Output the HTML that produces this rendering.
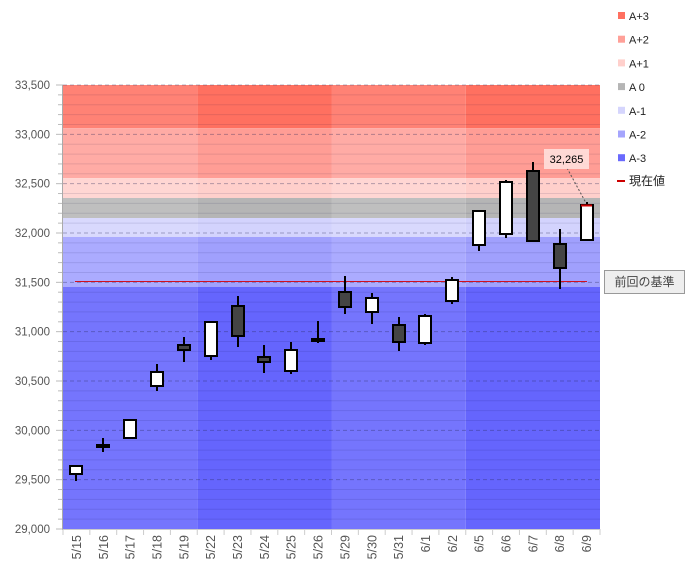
<!DOCTYPE html>
<html><head><meta charset="utf-8"><style>
body{margin:0;background:#fff;width:693px;height:573px;overflow:hidden}
svg{display:block;font-family:"Liberation Sans","Noto Sans CJK JP",sans-serif}
</style></head><body>
<svg id="c" width="693" height="573" xmlns="http://www.w3.org/2000/svg"></svg>
<script>
const s=document.getElementById('c');let h='';
const L=63,R=600,T=85,B=529,cw=(R-L)/20;
const y=v=>T+(33500-v)*(B-T)/4500;
const bands=[[33500,33063,'#ff8275','#ff7060'],[33063,32557,'#ffaba5','#ff9d95'],[32557,32355,'#ffd6d3','#ffcfcb'],[32355,32152,'#bfbfbf','#b5b5b5'],[32152,31960,'#d9d9fd','#d3d3fd'],[31960,31453,'#ababff','#a0a0fd'],[31453,29000,'#7575fd','#6565fd']];
for(let w=0;w<4;w++){const x0=L+w*5*cw;for(const b of bands){h+=`<rect x="${x0}" y="${y(b[0])}" width="${5*cw}" height="${y(b[1])-y(b[0])}" fill="${w%2?b[3]:b[2]}"/>`;}}
for(let v=29100;v<33500;v+=100){if(v%500)h+=`<line x1="${L}" x2="${R}" y1="${y(v)}" y2="${y(v)}" stroke="rgba(0,0,60,0.10)"/>`;}
for(let v=29500;v<=33500;v+=500){h+=`<line x1="${L}" x2="${R}" y1="${y(v)}" y2="${y(v)}" stroke="rgba(40,40,90,0.35)" stroke-dasharray="4,3"/>`;}
for(let v=29000;v<=33500;v+=100){h+=`<line x1="${v%500?58:56}" x2="${L}" y1="${y(v)}" y2="${y(v)}" stroke="#bbb"/>`;}
for(let v=29000;v<=33500;v+=500){h+=`<text x="50" y="${y(v)+4}" font-size="11.5" fill="#555" text-anchor="end">${(v/1000).toFixed(3).replace('.',',')}</text>`;}
h+=`<line x1="${L-0.5}" x2="${L-0.5}" y1="${T}" y2="${B+1}" stroke="#aaa"/><line x1="${L}" x2="${R}" y1="${B+0.5}" y2="${B+0.5}" stroke="#ccc"/>`;
const d=['5/15','5/16','5/17','5/18','5/19','5/22','5/23','5/24','5/25','5/26','5/29','5/30','5/31','6/1','6/2','6/5','6/6','6/7','6/8','6/9'];
d.forEach((t,i)=>{const cx=L+cw*(i+0.5);h+=`<line x1="${L+cw*i}" x2="${L+cw*i}" y1="${B}" y2="${B+6}" stroke="#ccc"/><text transform="translate(${cx+4.5},${B+6}) rotate(-90)" font-size="12.5" fill="#555" text-anchor="end">${t}</text>`;});
h+=`<line x1="${R}" x2="${R}" y1="${B}" y2="${B+6}" stroke="#ccc"/>`;
const c=[[466,474,466,481,0],[445,447,438,452,1],[420,438,420,438,0],[372,386,364,391,0],[345,350,337,362,1],[322,356,322,360,0],[306,336,296,347,1],[357,362,345,373,1],[350,371,342,374,0],[339,341,321,343,1],[292,307,276,314,1],[298,312,293,324,0],[325,342,317,351,1],[316,343,314,345,0],[280,301,277,304,0],[211,245,211,251,0],[182,234,180,238,0],[171,241,162,241,1],[244,268,229,289,1],[205,240,202,240,0]];
h+=`<line x1="75" x2="587" y1="281.5" y2="281.5" stroke="#d01020" stroke-width="1"/>`;
c.forEach((k,i)=>{const cx=Math.round(L+cw*(i+0.5));h+=`<line x1="${cx}" x2="${cx}" y1="${k[2]}" y2="${k[3]}" stroke="#000" stroke-width="2"/>`;
h+=`<rect x="${cx-6}" y="${k[0]}" width="12" height="${Math.max(k[1]-k[0],2)}" fill="${k[4]?'#444':'#fff'}" stroke="#000" stroke-width="2"/>`;});
h+=`<line x1="581" x2="592" y1="205.5" y2="205.5" stroke="#c00" stroke-width="2"/>`;
h+=`<line x1="567" y1="168" x2="586" y2="203" stroke="#555" stroke-dasharray="2,2"/>`;
h+=`<rect x="544" y="149" width="45" height="20" fill="#ffe0dc" opacity="0.9"/><text x="566.5" y="163" font-size="11" text-anchor="middle" fill="#000">32,265</text>`;
h+=`<rect x="604.5" y="270.5" width="80" height="23" fill="#eee" stroke="#999"/><text x="644.5" y="286" font-size="12" text-anchor="middle" fill="#444">前回の基準</text>`;
const lg=[['A+3','#ff7060'],['A+2','#ffa098'],['A+1','#ffd0cc'],['A 0','#b5b5b5'],['A-1','#d5d5fd'],['A-2','#a5a5fd'],['A-3','#6a6afd']];
lg.forEach((g,i)=>{const yy=16+i*23.7;h+=`<rect x="618" y="${yy-4}" width="7" height="7" fill="${g[1]}"/><text x="629" y="${yy+4}" font-size="11" fill="#222">${g[0]}</text>`;});
h+=`<line x1="617" x2="625" y1="181" y2="181" stroke="#c00" stroke-width="2"/><text x="629" y="185" font-size="12" fill="#222">現在値</text>`;
s.innerHTML=h;
</script>
</body></html>
